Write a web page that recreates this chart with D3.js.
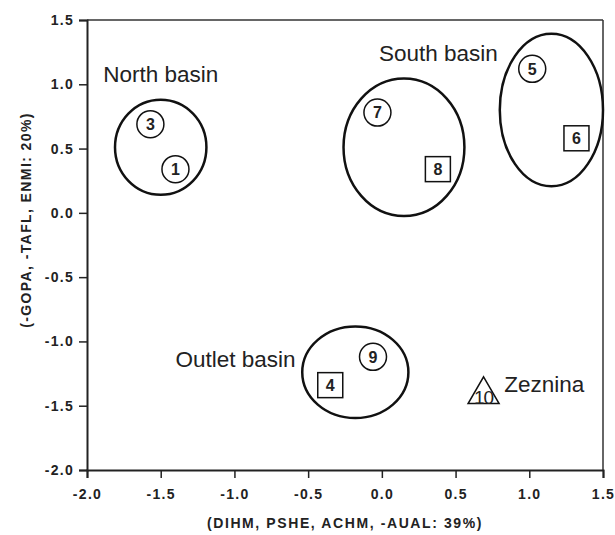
<!DOCTYPE html>
<html>
<head>
<meta charset="utf-8">
<script src="https://cdn.jsdelivr.net/npm/d3@7"></script>
<style>
body { margin: 0; background: #fff; }
svg text { font-family: "Liberation Sans", Arial, sans-serif; fill: #222; }
</style>
</head>
<body>
<svg id="chart" width="615" height="535"></svg>
<script>
// site scores
var siteIds = ["1", "3", "4", "5", "6", "7", "8", "9", "10"];
var siteX = [-1.40, -1.57, -0.35, 1.02, 1.32, -0.03, 0.38, -0.06, 0.69];
var siteY = [0.34, 0.69, -1.34, 1.12, 0.58, 0.78, 0.34, -1.12, -1.38];
var siteShape = ["circle", "circle", "square", "circle", "square", "circle", "square", "circle", "triangle"];

// group ellipses
var groupNames = ["North basin", "South basin", "South basin", "Outlet basin"];
var groupCx = [-1.50, 0.15, 1.15, -0.18];
var groupCy = [0.51, 0.51, 0.80, -1.24];
var groupRx = [0.31, 0.41, 0.35, 0.36];
var groupRy = [0.37, 0.535, 0.593, 0.356];

// text labels
var labelText = ["North basin", "South basin", "Outlet basin", "Zeznina"];
var labelX = [-1.89, -0.02, -1.40, 0.83];
var labelY = [1.02, 1.18, -1.20, -1.39];

var xTicks = [-2.0, -1.5, -1.0, -0.5, 0.0, 0.5, 1.0, 1.5];
var yTicks = [-2.0, -1.5, -1.0, -0.5, 0.0, 0.5, 1.0, 1.5];

var pLeft = 87, pRight = 603, pTop = 20, pBottom = 470;
var svg = d3.select("#chart");

var x = d3.scaleLinear().domain([-2, 1.5]).range([pLeft, pRight]);
var y = d3.scaleLinear().domain([-2, 1.5]).range([pBottom, pTop]);
var fmt = function(d) { return d.toFixed(1); };

// frame top and right
svg.append("line").attr("x1", pLeft).attr("x2", pRight).attr("y1", pTop).attr("y2", pTop)
	.style("stroke", "#333").style("stroke-width", 1.5);
svg.append("line").attr("x1", pRight).attr("x2", pRight).attr("y1", pTop).attr("y2", pBottom)
	.style("stroke", "#333").style("stroke-width", 1.5);

var xAxis = svg.append("g").attr("transform", "translate(0," + pBottom + ")")
	.call(d3.axisBottom(x).tickValues(xTicks).tickFormat(fmt).tickSizeOuter(0).tickSize(8).tickPadding(6));
var yAxis = svg.append("g").attr("transform", "translate(" + pLeft + ",0)")
	.call(d3.axisLeft(y).tickValues(yTicks).tickFormat(fmt).tickSizeOuter(0).tickSize(8).tickPadding(5));

[xAxis, yAxis].forEach(function(a) {
	a.select(".domain").style("stroke", "#222").style("stroke-width", 2);
	a.selectAll(".tick line").style("stroke", "#222").style("stroke-width", 1.5);
	a.selectAll(".tick text").style("font-size", "14px").style("font-weight", "bold")
		.style("letter-spacing", "1.3px").style("fill", "#222");
});
xAxis.selectAll(".tick text").attr("dy", "1.1em");

// axis titles
svg.append("text").attr("x", (pLeft + pRight) / 2).attr("y", 528)
	.attr("text-anchor", "middle").style("font-size", "14px").style("font-weight", "bold")
	.style("letter-spacing", "1.6px")
	.text("(DIHM, PSHE, ACHM, -AUAL: 39%)");
svg.append("text").attr("transform", "translate(31,220) rotate(-90)")
	.attr("text-anchor", "middle").style("font-size", "14px").style("font-weight", "bold")
	.style("letter-spacing", "1.4px")
	.text("(-GOPA, -TAFL, ENMI: 20%)");

// ellipses
svg.selectAll("ellipse.group")
	.data(groupNames)
	.enter()
	.append("ellipse")
	.attr("class", "group")
	.attr("cx", function(d, i) { return x(groupCx[i]); })
	.attr("cy", function(d, i) { return y(groupCy[i]); })
	.attr("rx", function(d, i) { return x(groupRx[i]) - x(0); })
	.attr("ry", function(d, i) { return y(0) - y(groupRy[i]); })
	.style("fill", "none").style("stroke", "#111").style("stroke-width", 2.5);

// markers
var pts = svg.selectAll("g.site")
	.data(siteIds)
	.enter()
	.append("g")
	.attr("class", "site")
	.attr("transform", function(d, i) { return "translate(" + x(siteX[i]) + "," + y(siteY[i]) + ")"; });

pts.each(function(d, i) {
	var g = d3.select(this);
	if (siteShape[i] == "circle") {
		g.append("circle").attr("r", 13.5).style("fill", "#fff").style("stroke", "#111").style("stroke-width", 1.5);
		g.append("text").attr("text-anchor", "middle").attr("dy", "0.36em")
			.style("font-size", "16px").style("font-weight", "bold").text(d);
	} else if (siteShape[i] == "square") {
		g.append("rect").attr("x", -12.5).attr("y", -12.5).attr("width", 25).attr("height", 25)
			.style("fill", "#fff").style("stroke", "#111").style("stroke-width", 1.5);
		g.append("text").attr("text-anchor", "middle").attr("dy", "0.36em")
			.style("font-size", "16px").style("font-weight", "bold").text(d);
	} else {
		g.append("path").attr("d", "M0,-13.5L15.5,13.3L-15.5,13.3Z")
			.style("fill", "#fff").style("stroke", "#111").style("stroke-width", 1.5);
		g.append("text").attr("text-anchor", "middle").attr("y", 13.8)
			.style("font-size", "19px").style("letter-spacing", "-1px").text(d);
	}
});

// labels
svg.selectAll("text.lbl")
	.data(labelText)
	.enter()
	.append("text")
	.attr("class", "lbl")
	.attr("x", function(d, i) { return x(labelX[i]); })
	.attr("y", function(d, i) { return y(labelY[i]); })
	.style("font-size", "22.5px")
	.text(function(d) { return d; });
</script>
</body>
</html>
